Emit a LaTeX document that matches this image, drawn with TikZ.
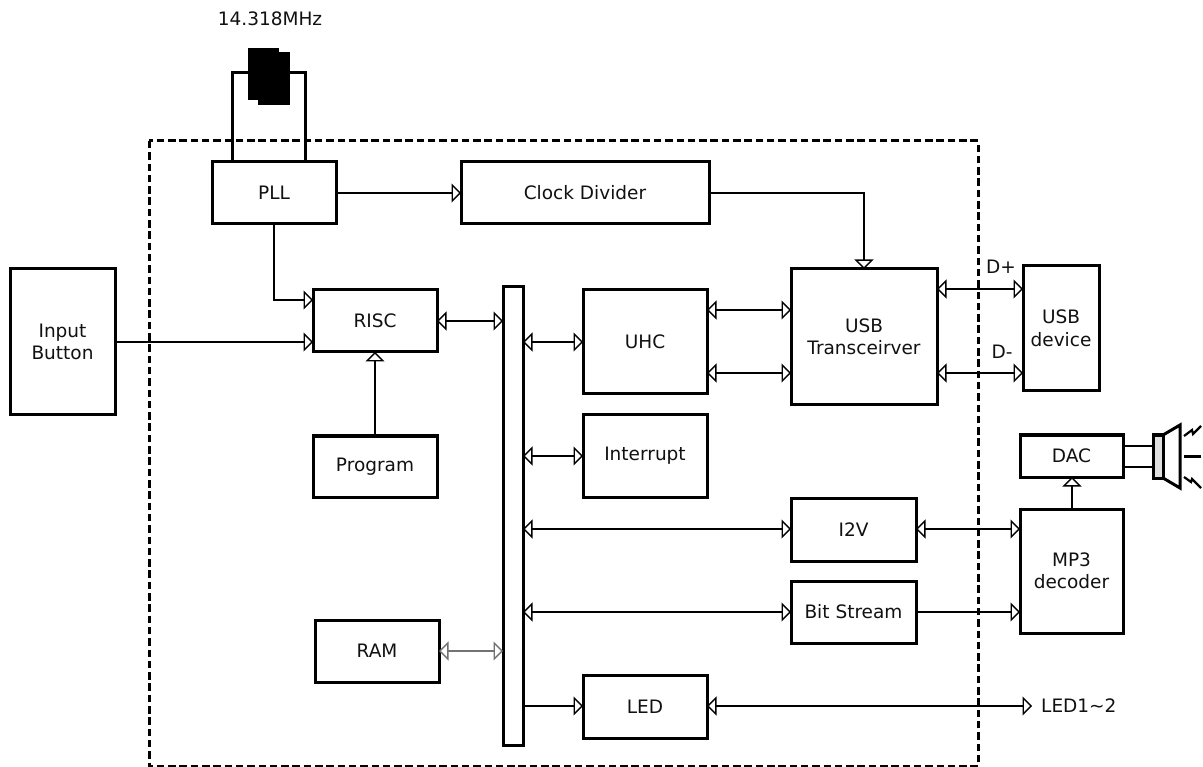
\documentclass[tikz,border=0pt]{standalone}
\usepackage{fontspec}
\setmainfont{DejaVu Sans}
\usetikzlibrary{arrows.meta}
\definecolor{ink}{HTML}{111111}
\tikzset{
  blk/.style={draw=black,line width=3pt,fill=white,outer sep=0pt,inner sep=0pt,align=center,font=\fontsize{18.5pt}{22.5pt}\selectfont,text=ink},
  lab/.style={inner sep=0pt,font=\fontsize{18.5pt}{22.5pt}\selectfont,text=ink},
  tip/.tip={Triangle[open,length=9.5pt,width=19pt,line width=1.4pt]},
  conn/.style={draw=black,line width=1.5pt},
  oneway/.style={conn,-{tip}},
  twoway/.style={conn,{tip}-{tip}},
  faint/.style={twoway,draw=black!55},
  wire/.style={draw=black,line width=3pt},
  thin wire/.style={draw=black,line width=1.5pt},
  chip/.style={fill=black,draw=none},
}
\begin{document}
\begin{tikzpicture}[x=1pt,y=-1pt]
\useasboundingbox (0,0) rectangle (1203,767);
\fill[white] (0,0) rectangle (1203,767);
% dashed boundary
\draw[line width=3pt,dash pattern=on 7.5pt off 3.8pt] (149,141) rectangle (978,766);
% crystal
\coordinate (xl) at (248,73);
\coordinate (xr) at (290,73);
\node[blk,minimum width=124pt,minimum height=62pt] (pll) at (274,193) {PLL};
\draw[wire] (pll.north -| 232,0) -- (232,73) -- (xl);
\draw[wire] (pll.north -| 305,0) -- (305,73) -- (xr);
\fill[chip] (248,48) rectangle (279,100);
\fill[chip] (258,52) rectangle (290,105);
\node[lab] (xtal) at (270,19) {14.318MHz};
% blocks
\node[blk,minimum width=248pt,minimum height=62pt] (clk) at (585,193) {Clock Divider};
\node[blk,minimum width=124pt,minimum height=62pt] (risc) at (375,321) {RISC};
\node[blk,minimum width=20pt,minimum height=458pt] (bus) at (513,516) {};
\node[blk,minimum width=124pt,minimum height=104pt] (uhc) at (645,342) {UHC};
\node[blk,minimum width=146pt,minimum height=136pt] (usb) at (864,337) {USB\\Transceirver};
\node[blk,minimum width=76pt,minimum height=125pt] (dev) at (1061,328.5) {USB\\device};
\node[blk,minimum width=105pt,minimum height=146pt] (btn) at (62.5,342) {Input\\Button};
\node[blk,minimum width=124pt,minimum height=61pt] (prog) at (375,466.5) {Program};
\node[blk,minimum width=124pt,minimum height=82pt] (irq) at (645,456) {Interrupt};
\node[blk,minimum width=125pt,minimum height=63pt] (i2v) at (853.5,529.5) {I2V};
\node[blk,minimum width=125pt,minimum height=62pt] (bits) at (853.5,612) {Bit Stream};
\node[blk,minimum width=103pt,minimum height=124pt] (mp3) at (1071.5,571) {MP3\\decoder};
\node[blk,minimum width=103pt,minimum height=42pt] (dac) at (1071.5,456) {DAC};
\node[blk,minimum width=124pt,minimum height=62pt] (ram) at (377,651) {RAM};
\node[blk,minimum width=124pt,minimum height=63pt] (led) at (645,706.5) {LED};
\node[lab,anchor=west] (ledout) at (1041,706) {LED1\textasciitilde2};
\node[lab] (dp) at (1001,267) {D+};
\node[lab] (dm) at (1002,352) {D-};
% connectors
\draw[oneway] (pll.east) -- (clk.west);
\draw[oneway] (clk.east) -| (usb.north -| 864,0);
\draw[oneway] (pll.south) |- (risc.west |- 0,300);
\draw[oneway] (btn.east |- 0,342) -- (risc.west |- 0,342);
\draw[twoway] (risc.east) -- (bus.west |- risc.east);
\draw[twoway] (bus.east |- uhc.west) -- (uhc.west);
\draw[twoway] (uhc.east |- 0,310) -- (usb.west |- 0,310);
\draw[twoway] (uhc.east |- 0,373) -- (usb.west |- 0,373);
\draw[twoway] (usb.east |- 0,289) -- (dev.west |- 0,289);
\draw[twoway] (usb.east |- 0,373) -- (dev.west |- 0,373);
\draw[oneway] (prog.north) -- (risc.south);
\draw[twoway] (bus.east |- irq.west) -- (irq.west);
\draw[twoway] (bus.east |- 0,529) -- (i2v.west |- 0,529);
\draw[twoway] (i2v.east |- 0,529) -- (mp3.west |- 0,529);
\draw[twoway] (bus.east |- bits.west) -- (bits.west);
\draw[oneway] (bits.east) -- (mp3.west |- bits.east);
\draw[faint] (ram.east) -- (bus.west |- ram.east);
\draw[oneway] (bus.east |- 0,706) -- (led.west |- 0,706);
\draw[twoway,shorten >=9pt] (led.east |- ledout.west) -- (ledout.west);
\draw[oneway] (mp3.north -| 1072,0) -- (dac.south -| 1072,0);
% speaker
\draw[thin wire] (dac.east |- 0,446) -- (1153,446);
\draw[thin wire] (dac.east |- 0,467) -- (1153,467);
\draw[line width=3pt,fill=black!12] (1153,435) rectangle (1163,478);
\draw[line width=3pt,line join=miter] (1163,435) -- (1180,425) -- (1180,488) -- (1163,478);
\draw[line width=2.2pt] (1184,436) -- (1192,430) -- (1193,434) -- (1201,426);
\draw[line width=2.2pt] (1184,456.5) -- (1201,456.5);
\draw[line width=2.2pt] (1184,477) -- (1191,482) -- (1192,479) -- (1201,488);
\end{tikzpicture}
\end{document}
